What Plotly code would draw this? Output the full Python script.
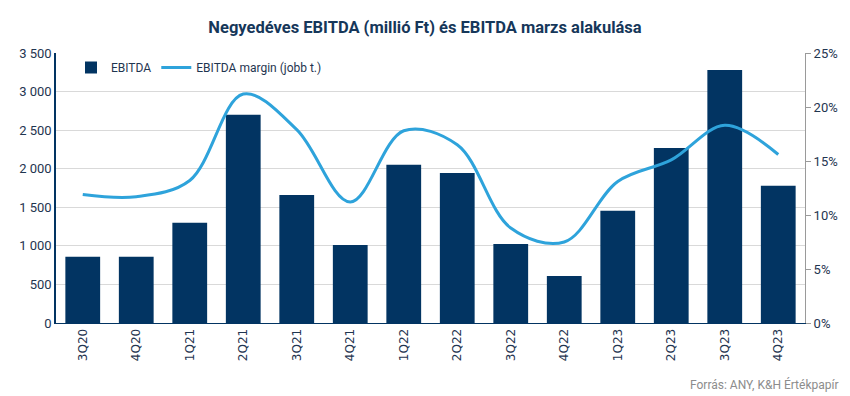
import plotly.graph_objects as go

categories = ["3Q20", "4Q20", "1Q21", "2Q21", "3Q21", "4Q21", "1Q22", "2Q22",
              "3Q22", "4Q22", "1Q23", "2Q23", "3Q23", "4Q23"]
ebitda = [860, 860, 1300, 2700, 1660, 1010, 2050, 1945, 1025, 610, 1455, 2270, 3280, 1780]
margin = [0.119, 0.117, 0.132, 0.212, 0.179, 0.112, 0.178, 0.165, 0.088, 0.075, 0.131, 0.151, 0.183, 0.156]

left_ticks = [0, 500, 1000, 1500, 2000, 2500, 3000, 3500]
left_tick_text = ["0", "500", "1 000", "1 500", "2 000", "2 500", "3 000", "3 500"]
right_ticks = [0, 0.05, 0.10, 0.15, 0.20, 0.25]
right_tick_text = ["0%", "5%", "10%", "15%", "20%", "25%"]

navy = "#023462"
light = "#2ea3db"
txt = "#1f3550"
font_family = "Liberation Sans Narrow, Roboto, Arial, sans-serif"

fig = go.Figure()
fig.add_trace(go.Bar(x=categories, y=ebitda, name="EBITDA", marker_color=navy,
                     marker_line_width=0, yaxis="y"))
fig.add_trace(go.Scatter(x=categories, y=margin, name="EBITDA margin (jobb t.)",
                         mode="lines", line=dict(color=light, width=3, shape="spline", smoothing=1.0),
                         yaxis="y2"))

fig.update_layout(
    width=850, height=396,
    margin=dict(l=56, r=45, t=53, b=73),
    paper_bgcolor="white", plot_bgcolor="white",
    font=dict(family=font_family, color=txt, size=12),
    title=dict(text="<b>Negyedéves EBITDA (millió Ft) és EBITDA marzs alakulása</b>",
               x=0.5, xanchor="center", y=0.932, yanchor="middle",
               font=dict(size=16.5, color="#16375a", family=font_family)),
    bargap=0.35,
    showlegend=True,
    legend=dict(orientation="h", x=0.02, y=1.0, xanchor="left", yanchor="top",
                bgcolor="rgba(0,0,0,0)", font=dict(size=12, color=txt),
                itemwidth=30, traceorder="normal"),
    xaxis=dict(type="category", tickangle=-90, showgrid=False, showline=True,
               linecolor=navy, linewidth=1, ticks="", automargin=False,
               tickfont=dict(size=12, family="DejaVu Sans, sans-serif", color=txt)),
    yaxis=dict(range=[0, 3500], tickvals=left_ticks, ticktext=left_tick_text,
               showgrid=True, gridcolor="#d9d9d9", gridwidth=1, showline=True,
               linecolor=navy, linewidth=1.5, ticks="", zeroline=False, automargin=False,
               tickfont=dict(size=13, color=txt)),
    yaxis2=dict(range=[0, 0.25], tickvals=right_ticks, ticktext=right_tick_text,
                overlaying="y", side="right", showgrid=False, showline=True,
                linecolor="#9a9a9a", linewidth=1, ticks="outside", ticklen=5,
                tickcolor="#9a9a9a", zeroline=False, automargin=False,
                tickfont=dict(size=13, color=txt)),
    annotations=[dict(text="Forrás: ANY, K&H Értékpapír", xref="paper", yref="paper",
                      x=1.0, y=-0.228, xanchor="right", yanchor="middle",
                      xshift=36, showarrow=False,
                      font=dict(size=12, color="#8c8c8c", family=font_family))],
)

fig.write_html("out.html", config={"displayModeBar": False},
               post_script="document.body.style.margin='0';document.body.style.padding='0';")
